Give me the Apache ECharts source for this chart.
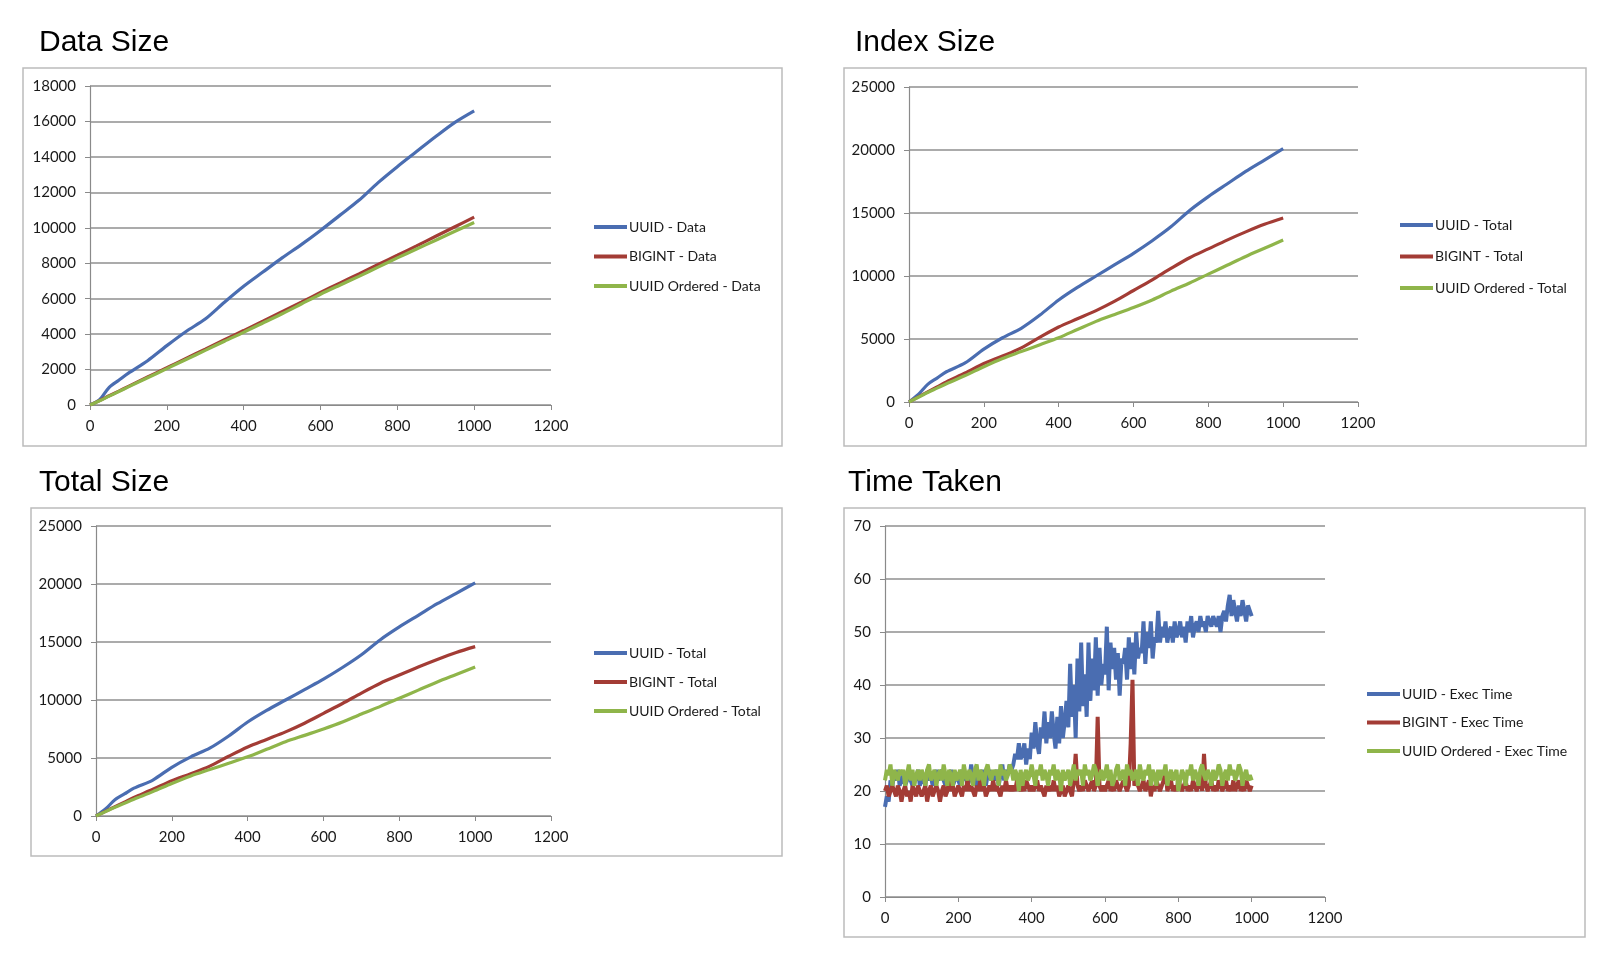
<!DOCTYPE html>
<html lang="en">
<head>
<meta charset="utf-8">
<title>UUID vs BIGINT</title>
<script src="https://cdn.jsdelivr.net/npm/echarts@6.0.0/dist/echarts.min.js"></script>
<style>
html, body { margin: 0; padding: 0; background: #fff; }
#main { width: 1608px; height: 962px; }
</style>
</head>
<body>
<div id="main"></div>
<script>
// x positions (rows) for the size charts
var sizeX = [0, 25, 50, 75, 100, 150, 200, 250, 300, 350, 400, 450, 500, 550, 600, 650, 700, 750, 800, 850, 900, 950, 1000];

// Data Size
var uuidData    = [0, 300, 1000, 1400, 1800, 2500, 3350, 4150, 4850, 5800, 6700, 7500, 8300, 9050, 9850, 10700, 11550, 12550, 13450, 14300, 15150, 15950, 16600];
var bigintData  = [0, 250, 520, 780, 1050, 1580, 2100, 2630, 3150, 3680, 4200, 4730, 5270, 5800, 6350, 6880, 7400, 7930, 8450, 8980, 9520, 10060, 10600];
var orderedData = [0, 240, 500, 760, 1020, 1540, 2050, 2570, 3080, 3600, 4100, 4630, 5150, 5700, 6250, 6760, 7260, 7780, 8300, 8800, 9300, 9800, 10300];

// Index Size / Total Size
var uuidTotal    = [0, 600, 1400, 1900, 2400, 3100, 4200, 5100, 5850, 6900, 8100, 9100, 10000, 10900, 11800, 12800, 13900, 15200, 16300, 17300, 18300, 19200, 20100];
var bigintTotal  = [0, 400, 800, 1200, 1600, 2300, 3050, 3650, 4300, 5150, 5950, 6600, 7250, 8000, 8850, 9700, 10600, 11450, 12150, 12850, 13500, 14100, 14600];
var orderedTotal = [0, 380, 750, 1100, 1450, 2100, 2800, 3450, 4000, 4550, 5100, 5750, 6400, 6950, 7500, 8100, 8800, 9450, 10150, 10850, 11550, 12200, 12850];

// Time Taken, one value every 5 rows from 0 to 1000
var timeStep = 5;
var uuidTime = [
  17,19,18,22,21,23,22,24,21,22,
  23,21,22,24,22,21,23,22,24,21,
  22,23,21,24,22,23,21,22,24,22,
  23,24,22,21,23,22,24,21,22,23,
  22,21,24,22,23,21,22,25,22,23,
  21,23,22,24,22,21,23,24,22,23,
  22,24,21,23,25,22,24,23,25,24,
  25,27,26,29,26,27,29,25,28,26,
  31,28,33,29,27,32,30,35,29,33,
  30,35,31,28,34,29,36,30,33,37,
  32,44,34,40,30,45,35,48,36,42,
  34,48,37,45,39,49,38,47,40,44,
  42,51,39,48,43,47,41,46,38,45,
  44,47,41,49,43,48,42,50,45,47,
  46,52,44,50,47,52,45,49,48,54,
  48,51,49,52,48,50,51,48,52,49,
  50,52,49,51,48,52,50,53,49,51,
  52,50,53,51,52,50,53,52,51,53,
  52,51,53,50,53,54,52,55,57,53,
  56,54,52,55,53,56,54,52,55,54,53
];
var bigintTime = [
  20,21,19,20,21,20,19,21,20,18,
  20,21,19,20,18,21,20,19,21,20,
  19,20,21,18,20,21,19,20,21,20,
  18,20,21,19,20,22,20,21,19,20,
  21,20,19,21,20,22,20,21,20,19,
  21,20,22,20,21,19,20,21,20,22,
  20,21,20,19,21,20,22,20,21,20,
  21,20,22,21,20,21,20,22,21,20,
  21,20,21,22,20,21,20,19,21,20,
  21,20,22,20,21,19,20,21,19,20,
  21,20,19,22,27,21,20,21,20,22,
  21,20,21,22,20,21,34,21,20,21,
  20,21,22,20,21,20,22,21,20,21,
  22,21,20,21,29,41,21,22,21,20,
  21,22,20,21,22,19,21,20,22,21,
  20,21,22,24,20,21,22,20,21,20,
  22,21,20,21,22,20,21,20,22,21,
  20,21,22,20,27,21,20,21,22,20,
  21,20,22,21,20,21,22,20,21,20,
  22,20,21,22,20,21,20,22,21,20,21
];
var orderedTime = [
  22,24,23,25,21,24,23,22,24,23,
  24,21,23,25,22,24,21,23,24,22,
  24,23,21,24,25,22,23,24,21,23,
  24,22,25,23,21,24,23,21,24,22,
  23,24,21,25,23,22,24,23,21,24,
  25,22,24,23,21,24,25,23,22,24,
  23,24,21,25,23,24,22,23,25,24,
  22,24,23,20,24,21,23,24,22,23,
  25,23,21,24,23,25,22,24,23,21,
  24,23,25,22,24,23,20,24,22,23,
  24,21,23,25,22,24,23,24,21,25,
  23,24,22,23,25,24,21,23,24,22,
  23,25,22,24,21,22,24,25,22,23,
  24,21,25,23,24,22,23,24,21,25,
  23,22,24,23,25,21,24,23,21,24,
  22,24,23,25,21,23,24,22,23,24,
  20,22,24,23,21,24,23,25,22,24,
  23,21,24,25,23,22,24,23,21,24,
  22,23,25,24,21,23,24,22,25,23,
  24,22,23,25,24,21,23,24,22,23,22
];

var BLUE = '#4a6db1', RED = '#a33c35', GREEN = '#8fb54a';
var tickFont = 'Lato, "Open Sans", sans-serif';

function pairs(xs, ys) {
    return ys.map(function (v, i) { return [xs[i], v]; });
}
function stepPairs(ys) {
    return ys.map(function (v, i) { return [i * timeStep, v]; });
}
function plain(v) { return String(v); }

// panel layout: frame box, plot area, title, legend
var panels = [
    { title: 'Data Size',  tx: 39,  ty: 27,  box: [23, 68, 759, 378],  grid: [90, 86, 461, 319],  yMax: 18000, yInt: 2000, lx: 594,  ly: 219, gap: 13.5 },
    { title: 'Index Size', tx: 855, ty: 27,  box: [844, 68, 742, 378], grid: [909, 87, 449, 315], yMax: 25000, yInt: 5000, lx: 1400, ly: 217, gap: 15.5 },
    { title: 'Total Size', tx: 39,  ty: 467, box: [31, 508, 751, 348], grid: [96, 526, 455, 290], yMax: 25000, yInt: 5000, lx: 594,  ly: 645, gap: 13 },
    { title: 'Time Taken', tx: 848, ty: 467, box: [844, 508, 741, 429], grid: [885, 526, 440, 371], yMax: 70,    yInt: 10,   lx: 1367, ly: 686, gap: 12.5 }
];

var seriesSets = [
    [['UUID - Data', uuidData, BLUE], ['BIGINT - Data', bigintData, RED], ['UUID Ordered - Data', orderedData, GREEN]],
    [['UUID - Total', uuidTotal, BLUE], ['BIGINT - Total', bigintTotal, RED], ['UUID Ordered - Total', orderedTotal, GREEN]],
    [['UUID - Total', uuidTotal, BLUE], ['BIGINT - Total', bigintTotal, RED], ['UUID Ordered - Total', orderedTotal, GREEN]],
    [['UUID - Exec Time', uuidTime, BLUE], ['BIGINT - Exec Time', bigintTime, RED], ['UUID Ordered - Exec Time', orderedTime, GREEN]]
];

var option = {
    animation: false,
    backgroundColor: '#fff',
    title: [], grid: [], xAxis: [], yAxis: [], legend: [], series: [], graphic: []
};

panels.forEach(function (p, k) {
    option.graphic.push({
        type: 'rect', silent: true, z: -1,
        shape: { x: p.box[0], y: p.box[1], width: p.box[2], height: p.box[3] },
        style: { fill: '#fff', stroke: '#bcbcbc', lineWidth: 1.5 }
    });
    option.title.push({
        text: p.title, left: p.tx, top: p.ty, padding: 0,
        textStyle: { fontFamily: '"Liberation Sans", Arial, sans-serif', fontSize: 30, fontWeight: 'normal', color: '#000', lineHeight: 31 }
    });
    option.grid.push({ left: p.grid[0], top: p.grid[1], width: p.grid[2], height: p.grid[3], containLabel: false });
    option.xAxis.push({
        type: 'value', gridIndex: k, min: 0, max: 1200, interval: 200,
        axisLine: { show: true, lineStyle: { color: '#8a8a8a', width: 1.2 } },
        axisTick: { show: true, length: 5, lineStyle: { color: '#8a8a8a' } },
        splitLine: { show: false },
        axisLabel: { fontFamily: tickFont, fontSize: 15, color: '#1a1a1a', margin: 14, formatter: plain }
    });
    option.yAxis.push({
        type: 'value', gridIndex: k, min: 0, max: p.yMax, interval: p.yInt,
        axisLine: { show: true, lineStyle: { color: '#8a8a8a', width: 1.2 } },
        axisTick: { show: true, length: 5, lineStyle: { color: '#8a8a8a' } },
        splitLine: { show: true, lineStyle: { color: '#8f8f8f', width: 1.5 } },
        axisLabel: { fontFamily: tickFont, fontSize: 15, color: '#1a1a1a', margin: 14, formatter: plain }
    });
    var names = [];
    seriesSets[k].forEach(function (s) {
        names.push({ name: s[0], itemStyle: { color: s[2] } });
        option.series.push({
            name: s[0], type: 'line', xAxisIndex: k, yAxisIndex: k,
            data: k === 3 ? stepPairs(s[1]) : pairs(sizeX, s[1]),
            smooth: k === 3 ? false : 0.3,
            showSymbol: false, symbol: 'none',
            lineStyle: { color: s[2], width: k === 3 ? 4 : 3.2 },
            itemStyle: { color: s[2] }
        });
    });
    option.legend.push({
        data: names, orient: 'vertical', left: p.lx, top: p.ly, padding: 0,
        itemGap: p.gap, itemWidth: 33, itemHeight: 4, icon: 'rect',
        selectedMode: false,
        textStyle: { fontFamily: tickFont, fontSize: 14, color: '#1a1a1a', lineHeight: 16, padding: [0, 0, 0, -3] }
    });
});

echarts.init(document.getElementById('main')).setOption(option);
</script>
</body>
</html>
